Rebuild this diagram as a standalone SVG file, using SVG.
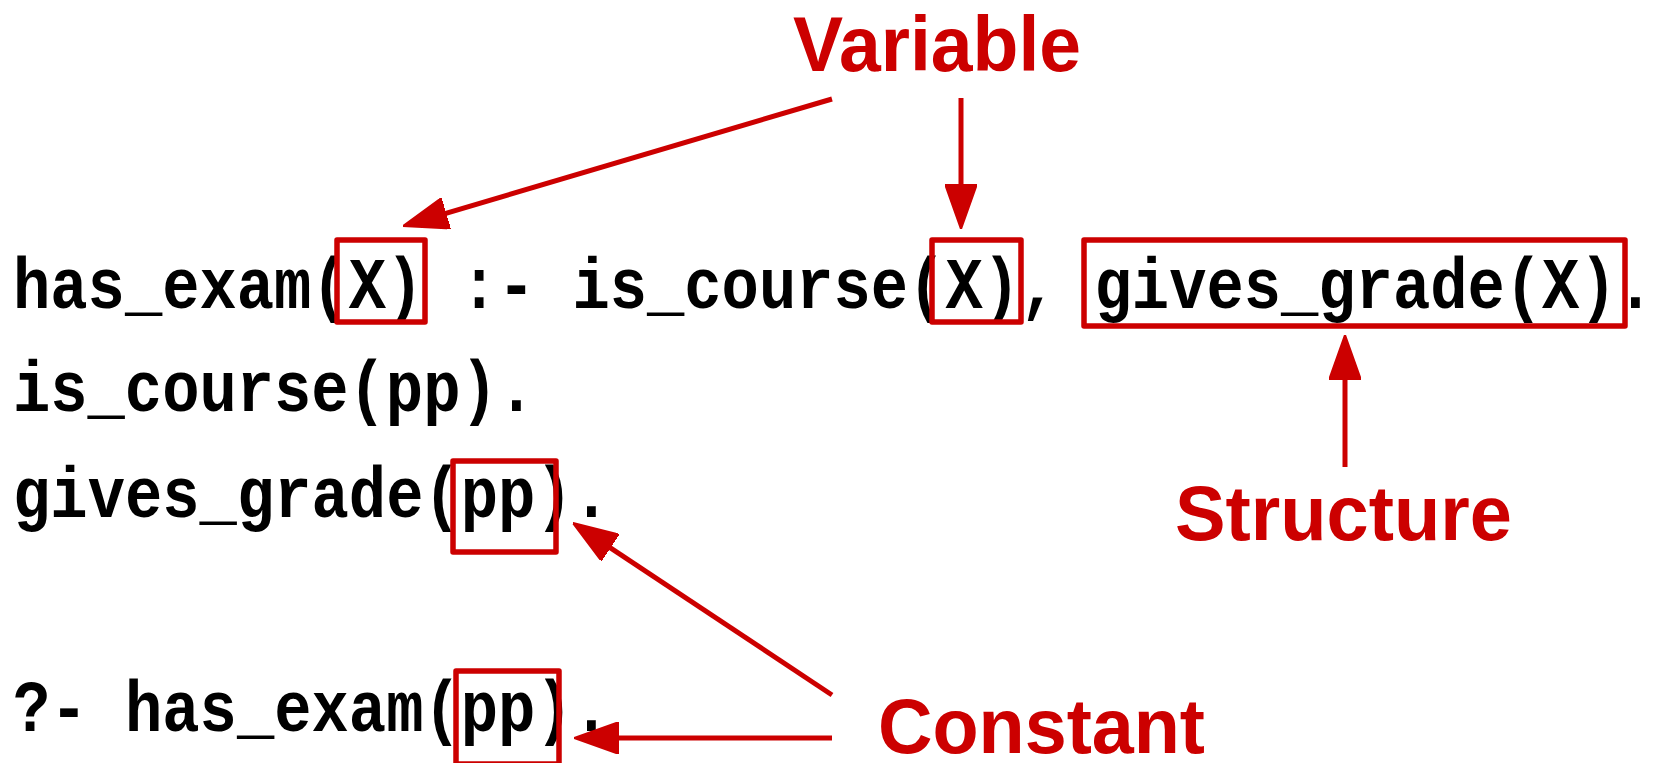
<svg xmlns="http://www.w3.org/2000/svg" width="1656" height="763" viewBox="0 0 1656 763">
<style>
.code{font-family:"Liberation Mono","Courier New",monospace;font-weight:bold;font-size:72px;fill:#000}
.lbl{font-family:"Liberation Sans",Arial,sans-serif;font-weight:bold;font-size:78px;fill:#CC0000}
.box{fill:none;stroke:#CC0000;stroke-width:5.5;stroke-linejoin:round}
.conn{fill:none;stroke:#CC0000;stroke-width:5}
</style>
<defs>
<marker id="ah" viewBox="0 0 45 32" refX="25" refY="16" markerWidth="45" markerHeight="32" markerUnits="userSpaceOnUse" orient="auto">
<path d="M0,0 L45,16 L0,32 Z" fill="#CC0000" stroke="#CC0000" stroke-width="2" stroke-linejoin="round"/>
</marker>
</defs>
<rect width="1656" height="763" fill="#fff"/>
<g id="code">
<text id="line1" class="code" x="13" y="308" textLength="1641" lengthAdjust="spacingAndGlyphs">has_exam(X) :- is_course(X), gives_grade(X).</text>
<text id="line2" class="code" x="13" y="411" textLength="522" lengthAdjust="spacingAndGlyphs">is_course(pp).</text>
<text id="line3" class="code" x="13" y="517" textLength="597" lengthAdjust="spacingAndGlyphs">gives_grade(pp).</text>
<text id="line4" class="code" x="13" y="731" textLength="597" lengthAdjust="spacingAndGlyphs">?- has_exam(pp).</text>
</g>
<g id="boxes">
<rect id="box-var1" class="box" x="337" y="240" width="88" height="82"/>
<rect id="box-var2" class="box" x="932" y="240" width="89" height="82"/>
<rect id="box-struct" class="box" x="1084" y="240" width="541" height="86"/>
<rect id="box-const1" class="box" x="453" y="461" width="103" height="91"/>
<rect id="box-const2" class="box" x="456" y="671" width="103" height="93"/>
</g>
<g id="label-variable"><text class="lbl" x="793" y="71" textLength="288" lengthAdjust="spacingAndGlyphs">Variable</text></g>
<g id="label-structure"><text class="lbl" x="1175" y="540" textLength="337" lengthAdjust="spacingAndGlyphs">Structure</text></g>
<g id="label-constant"><text class="lbl" x="878" y="753" textLength="327" lengthAdjust="spacingAndGlyphs">Constant</text></g>
<g id="connectors">
<line class="conn" x1="832" y1="99" x2="422.2" y2="220.3" marker-end="url(#ah)"/>
<line class="conn" x1="961" y1="98" x2="961" y2="209" marker-end="url(#ah)"/>
<line class="conn" x1="1345" y1="467" x2="1345" y2="355" marker-end="url(#ah)"/>
<line class="conn" x1="832" y1="695" x2="589.7" y2="534.1" marker-end="url(#ah)"/>
<line class="conn" x1="832" y1="738" x2="594" y2="738" marker-end="url(#ah)"/>
</g>
</svg>
